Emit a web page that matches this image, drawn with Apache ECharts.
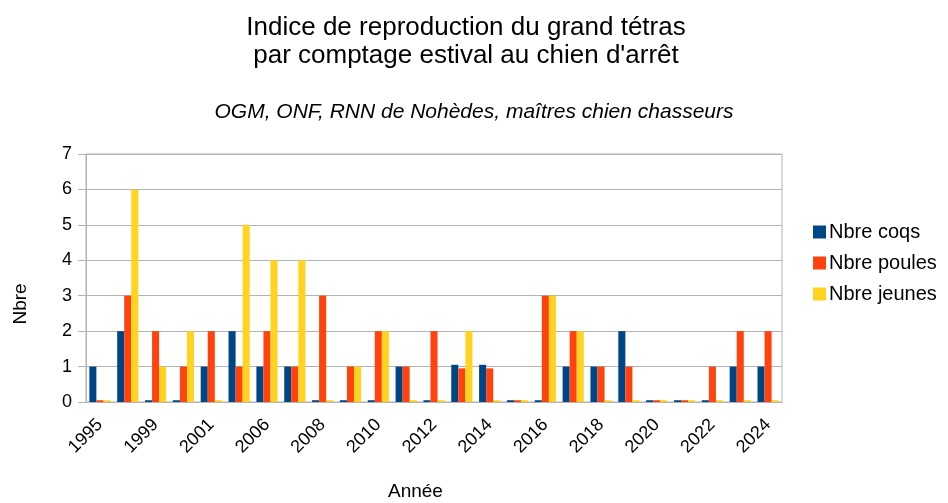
<!DOCTYPE html>
<html>
<head>
<meta charset="utf-8">
<script src="https://cdn.jsdelivr.net/npm/echarts@6/dist/echarts.min.js"></script>
<style>
  html, body { margin: 0; padding: 0; background: #fff; }
  #chart { width: 948px; height: 503px; }
</style>
</head>
<body>
<div id="chart"></div>
<script>
// années (les valeurs 0.05 = petits traits visibles pour zéro)
var annees = ['1995', '1998', '1999', '2000', '2001', '2005', '2006', '2007', '2008', '2009',
              '2010', '2011', '2012', '2013', '2014', '2015', '2016', '2017', '2018', '2019',
              '2020', '2021', '2022', '2023', '2024'];
var coqs   = [1, 2, 0.05, 0.05, 1, 2, 1, 1, 0.05, 0.05, 0.05, 1, 0.05, 1.05, 1.05, 0.05, 0.05, 1, 1, 2, 0.05, 0.05, 0.05, 1, 1];
var poules = [0.05, 3, 2, 1, 2, 1, 2, 1, 3, 1, 2, 1, 2, 0.95, 0.95, 0.05, 3, 2, 1, 1, 0.05, 0.05, 1, 2, 2];
var jeunes = [0.05, 6, 1, 2, 0.05, 5, 4, 4, 0.05, 1, 2, 0.05, 0.05, 2, 0.05, 0.05, 3, 2, 0.05, 0.05, 0.05, 0.05, 0.05, 0.05, 0.05];

var police = 'Liberation Sans, Arial, sans-serif';
var gris = '#b3b3b3';

var myChart = echarts.init(document.getElementById('chart'));
var option = {
    animation: false,
    textStyle: { fontFamily: police },
    title: [{
        text: 'Indice de reproduction du grand tétras\npar comptage estival au chien d\'arrêt',
        left: 461, top: 9, textAlign: 'center',
        textStyle: { fontSize: 26, fontWeight: 'normal', color: '#000', lineHeight: 28, fontFamily: police }
    }, {
        text: 'OGM, ONF, RNN de Nohèdes, maîtres chien chasseurs',
        left: 469, top: 97, textAlign: 'center',
        textStyle: { fontSize: 21, fontWeight: 'normal', fontStyle: 'italic', color: '#000', fontFamily: police }
    }],
    legend: {
        orient: 'vertical',
        left: 808, top: 217,
        icon: 'rect',
        itemWidth: 13, itemHeight: 13, itemGap: 11,
        textStyle: { fontSize: 20, color: '#000', fontFamily: police, padding: [0, 0, 0, -2] },
        data: ['Nbre coqs', 'Nbre poules', 'Nbre jeunes']
    },
    grid: {
        left: 86, right: 166, top: 154, bottom: 101,
        show: true, borderColor: gris, borderWidth: 1
    },
    graphic: [{
        type: 'text', left: 388, top: 482,
        style: { text: 'Année', fontSize: 19, fill: '#000', fontFamily: police }
    }, {
        type: 'text', x: 21, y: 304, rotation: Math.PI / 2,
        style: { text: 'Nbre', fontSize: 19, fill: '#000', fontFamily: police, align: 'center', verticalAlign: 'middle' }
    }],
    xAxis: {
        type: 'category',
        data: annees,
        axisLine: { lineStyle: { color: gris } },
        axisTick: { interval: 0, length: 7, lineStyle: { color: gris } },
        axisLabel: { interval: 1, rotate: 45, fontSize: 18, color: '#000', margin: 20 }
    },
    yAxis: {
        type: 'value',
        min: 0, max: 7, interval: 1,
        axisLine: { show: true, lineStyle: { color: gris } },
        axisTick: { show: true, length: 8, lineStyle: { color: gris } },
        axisLabel: { fontSize: 18, color: '#000', margin: 14 },
        splitLine: { lineStyle: { color: gris } }
    },
    series: [
        { name: 'Nbre coqs', type: 'bar', data: coqs, itemStyle: { color: '#004586' }, barGap: '0%', barCategoryGap: '24%' },
        { name: 'Nbre poules', type: 'bar', data: poules, itemStyle: { color: '#ff420e' } },
        { name: 'Nbre jeunes', type: 'bar', data: jeunes, itemStyle: { color: '#ffd320' } }
    ]
};
myChart.setOption(option);
</script>
</body>
</html>
